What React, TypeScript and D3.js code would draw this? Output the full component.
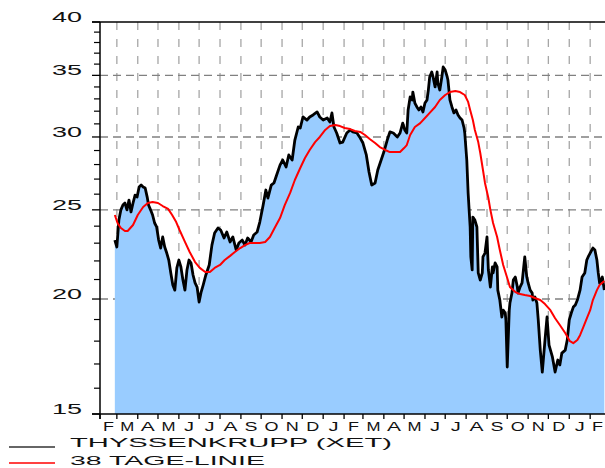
import { useMemo } from "react";
import * as d3 from "d3";

const WIDTH = 605;
const HEIGHT = 468;
const MARGIN = { top: 22, right: 0, bottom: 54, left: 100 };
const FONT = "Liberation Sans, Arial, sans-serif";

// visible time window of the chart
const X_START = "2010-02-04";
const X_END = "2012-02-23";

const Y_DOMAIN = [15, 40];
const Y_LABELS = [15, 20, 25, 30, 35, 40];
const Y_MINOR = [16, 17, 18, 19, 21, 22, 23, 24, 26, 27, 28, 29, 31, 32, 33, 34, 36, 37, 38, 39];
const Y_GRID = [20, 25, 30, 35];
const MONTH_LETTERS = ["J", "F", "M", "A", "M", "J", "J", "A", "S", "O", "N", "D"];
// gedehnte Buchstabenbreite in px
const LETTER_WIDTH: Record<string, number> = { J: 10, F: 11, M: 14, A: 14, S: 13, O: 14, N: 13, D: 13 };

const SERIES_NAMES = ["THYSSENKRUPP (XET)", "38 TAGE-LINIE"];

// Schlusskurse
const PRICE: [string, number][] = [
  ["2010-02-26", 23.18], ["2010-03-01", 22.78], ["2010-03-04", 24.37], ["2010-03-07", 25.0],
  ["2010-03-10", 25.3], ["2010-03-13", 25.43], ["2010-03-16", 25.0], ["2010-03-19", 25.62],
  ["2010-03-22", 24.87], ["2010-03-25", 25.43], ["2010-03-28", 25.94], ["2010-03-31", 25.81],
  ["2010-04-03", 26.47], ["2010-04-06", 26.6], ["2010-04-09", 26.47], ["2010-04-12", 26.4],
  ["2010-04-15", 25.81], ["2010-04-17", 25.3], ["2010-04-20", 25.0], ["2010-04-23", 24.68],
  ["2010-04-26", 24.19], ["2010-04-29", 23.95], ["2010-05-02", 23.18], ["2010-05-05", 22.72],
  ["2010-05-08", 23.36], ["2010-05-11", 22.78], ["2010-05-14", 22.44], ["2010-05-17", 22.05],
  ["2010-05-20", 21.35], ["2010-05-23", 20.71], ["2010-05-26", 20.45], ["2010-05-29", 21.62],
  ["2010-06-01", 22.05], ["2010-06-04", 21.67], ["2010-06-07", 20.97], ["2010-06-10", 20.45],
  ["2010-06-13", 21.51], ["2010-06-16", 22.05], ["2010-06-19", 21.89], ["2010-06-22", 21.24],
  ["2010-06-25", 20.82], ["2010-06-28", 20.61], ["2010-07-01", 19.85], ["2010-07-04", 20.35],
  ["2010-07-07", 20.71], ["2010-07-11", 21.24], ["2010-07-16", 21.78], ["2010-07-20", 22.89],
  ["2010-07-24", 23.59], ["2010-07-29", 23.89], ["2010-08-02", 23.77], ["2010-08-07", 23.3],
  ["2010-08-11", 23.65], ["2010-08-16", 23.07], ["2010-08-20", 23.36], ["2010-08-25", 22.61],
  ["2010-08-29", 23.01], ["2010-09-03", 23.18], ["2010-09-07", 22.89], ["2010-09-11", 23.3],
  ["2010-09-16", 23.07], ["2010-09-20", 23.47], ["2010-09-25", 23.65], ["2010-09-29", 24.25],
  ["2010-10-04", 25.3], ["2010-10-08", 26.27], ["2010-10-11", 25.75], ["2010-10-16", 26.6],
  ["2010-10-20", 26.74], ["2010-10-24", 27.28], ["2010-10-29", 27.96], ["2010-11-02", 28.32],
  ["2010-11-07", 27.83], ["2010-11-11", 28.68], ["2010-11-16", 28.32], ["2010-11-20", 29.77],
  ["2010-11-25", 30.76], ["2010-11-28", 30.68], ["2010-12-02", 31.54], ["2010-12-08", 31.3],
  ["2010-12-12", 31.54], ["2010-12-17", 31.7], ["2010-12-23", 31.94], ["2010-12-27", 31.54],
  ["2011-01-01", 31.3], ["2011-01-07", 31.46], ["2011-01-11", 31.14], ["2011-01-14", 31.86],
  ["2011-01-17", 30.76], ["2011-01-21", 30.3], ["2011-01-26", 29.55], ["2011-01-30", 29.62],
  ["2011-02-05", 30.3], ["2011-02-10", 30.53], ["2011-02-14", 30.38], ["2011-02-20", 30.3],
  ["2011-02-25", 29.92], ["2011-03-01", 29.55], ["2011-03-06", 28.68], ["2011-03-10", 27.48],
  ["2011-03-14", 26.6], ["2011-03-19", 26.74], ["2011-03-23", 27.62], ["2011-03-28", 28.32],
  ["2011-04-01", 28.89], ["2011-04-06", 29.77], ["2011-04-10", 30.38], ["2011-04-15", 30.3],
  ["2011-04-21", 30.0], ["2011-04-25", 30.3], ["2011-04-29", 31.06], ["2011-05-02", 30.53],
  ["2011-05-05", 30.3], ["2011-05-07", 32.1], ["2011-05-10", 33.16], ["2011-05-13", 32.91],
  ["2011-05-14", 33.57], ["2011-05-17", 32.66], ["2011-05-20", 32.34], ["2011-05-23", 32.1],
  ["2011-05-26", 32.34], ["2011-05-29", 31.94], ["2011-06-01", 32.66], ["2011-06-04", 32.91],
  ["2011-06-06", 33.74], ["2011-06-08", 34.86], ["2011-06-11", 35.3], ["2011-06-13", 34.86],
  ["2011-06-16", 34.0], ["2011-06-19", 35.3], ["2011-06-20", 34.34], ["2011-06-23", 33.74],
  ["2011-06-26", 34.86], ["2011-06-28", 35.74], ["2011-07-01", 35.47], ["2011-07-04", 34.86],
  ["2011-07-05", 34.6], ["2011-07-08", 32.91], ["2011-07-11", 32.34], ["2011-07-14", 31.86],
  ["2011-07-17", 32.1], ["2011-07-20", 31.7], ["2011-07-23", 31.46], ["2011-07-26", 31.3],
  ["2011-07-29", 30.68], ["2011-07-30", 30.3], ["2011-08-02", 28.32], ["2011-08-04", 26.08],
  ["2011-08-07", 23.95], ["2011-08-08", 22.22], ["2011-08-10", 21.51], ["2011-08-11", 24.55],
  ["2011-08-14", 24.37], ["2011-08-17", 23.95], ["2011-08-19", 21.35], ["2011-08-22", 20.97],
  ["2011-08-25", 21.35], ["2011-08-26", 22.22], ["2011-08-29", 22.44], ["2011-09-01", 23.36],
  ["2011-09-03", 21.51], ["2011-09-06", 20.61], ["2011-09-09", 21.67], ["2011-09-10", 21.35],
  ["2011-09-13", 21.89], ["2011-09-16", 21.67], ["2011-09-17", 20.45], ["2011-09-20", 19.95],
  ["2011-09-23", 19.12], ["2011-09-25", 19.45], ["2011-09-28", 19.31], ["2011-09-29", 18.98],
  ["2011-10-01", 16.87], ["2011-10-04", 19.45], ["2011-10-05", 19.8], ["2011-10-08", 20.3],
  ["2011-10-10", 20.97], ["2011-10-13", 21.13], ["2011-10-16", 20.61], ["2011-10-17", 20.3],
  ["2011-10-20", 20.61], ["2011-10-23", 20.82], ["2011-10-25", 21.51], ["2011-10-27", 22.22],
  ["2011-10-30", 21.13], ["2011-11-01", 20.82], ["2011-11-04", 20.45], ["2011-11-07", 20.3],
  ["2011-11-08", 19.95], ["2011-11-11", 20.1], ["2011-11-14", 19.8], ["2011-11-16", 18.98],
  ["2011-11-19", 17.6], ["2011-11-22", 16.66], ["2011-11-26", 18.05], ["2011-11-29", 19.12],
  ["2011-12-02", 17.82], ["2011-12-07", 17.3], ["2011-12-11", 16.66], ["2011-12-15", 17.17],
  ["2011-12-18", 16.96], ["2011-12-21", 17.47], ["2011-12-26", 17.6], ["2011-12-29", 18.05],
  ["2012-01-01", 18.98], ["2012-01-04", 19.31], ["2012-01-07", 19.6], ["2012-01-10", 19.7],
  ["2012-01-13", 19.95], ["2012-01-17", 20.45], ["2012-01-20", 21.13], ["2012-01-24", 21.35],
  ["2012-01-27", 22.05], ["2012-01-29", 22.22], ["2012-02-01", 22.44], ["2012-02-05", 22.72],
  ["2012-02-08", 22.61], ["2012-02-11", 22.05], ["2012-02-13", 21.35], ["2012-02-15", 20.82],
  ["2012-02-19", 21.13], ["2012-02-22", 20.45],
];

// 38-Tage-Linie
const MA38: [string, number][] = [
  ["2010-02-26", 24.68], ["2010-03-02", 24.19], ["2010-03-07", 23.89], ["2010-03-13", 23.71],
  ["2010-03-17", 23.71], ["2010-03-25", 24.07], ["2010-04-01", 24.68], ["2010-04-09", 25.18],
  ["2010-04-16", 25.43], ["2010-04-23", 25.49], ["2010-05-01", 25.43], ["2010-05-08", 25.24],
  ["2010-05-16", 25.06], ["2010-05-22", 24.68], ["2010-05-28", 24.25], ["2010-06-02", 23.77],
  ["2010-06-10", 23.07], ["2010-06-17", 22.5], ["2010-06-25", 21.94], ["2010-07-02", 21.62],
  ["2010-07-10", 21.4], ["2010-07-17", 21.4], ["2010-07-24", 21.62], ["2010-08-01", 21.78],
  ["2010-08-08", 22.05], ["2010-08-16", 22.28], ["2010-08-23", 22.5], ["2010-08-31", 22.72],
  ["2010-09-07", 22.89], ["2010-09-14", 23.01], ["2010-09-22", 23.01], ["2010-09-29", 23.01],
  ["2010-10-07", 23.07], ["2010-10-14", 23.36], ["2010-10-21", 23.89], ["2010-10-29", 24.49],
  ["2010-11-05", 25.3], ["2010-11-13", 26.08], ["2010-11-20", 26.94], ["2010-11-28", 27.76],
  ["2010-12-05", 28.46], ["2010-12-12", 29.04], ["2010-12-20", 29.62], ["2010-12-27", 30.0],
  ["2011-01-04", 30.53], ["2011-01-11", 30.83], ["2011-01-19", 30.91], ["2011-01-26", 30.83],
  ["2011-02-02", 30.68], ["2011-02-10", 30.6], ["2011-02-17", 30.45], ["2011-02-25", 30.38],
  ["2011-03-04", 30.15], ["2011-03-11", 29.85], ["2011-03-19", 29.55], ["2011-03-26", 29.25],
  ["2011-04-03", 29.04], ["2011-04-10", 28.89], ["2011-04-18", 28.89], ["2011-04-25", 28.89],
  ["2011-05-01", 29.18], ["2011-05-05", 29.4], ["2011-05-10", 30.15], ["2011-05-17", 30.76],
  ["2011-05-25", 31.06], ["2011-06-01", 31.46], ["2011-06-08", 31.86], ["2011-06-16", 32.34],
  ["2011-06-23", 32.91], ["2011-07-01", 33.32], ["2011-07-08", 33.57], ["2011-07-16", 33.65],
  ["2011-07-23", 33.57], ["2011-07-30", 33.32], ["2011-08-04", 32.75], ["2011-08-07", 32.1],
  ["2011-08-11", 31.3], ["2011-08-14", 30.53], ["2011-08-19", 29.62], ["2011-08-22", 28.82],
  ["2011-08-26", 27.62], ["2011-08-29", 26.74], ["2011-09-03", 25.75], ["2011-09-06", 25.0],
  ["2011-09-10", 24.19], ["2011-09-16", 23.36], ["2011-09-20", 22.61], ["2011-09-25", 21.78],
  ["2011-10-01", 21.08], ["2011-10-05", 20.61], ["2011-10-13", 20.35], ["2011-10-20", 20.25],
  ["2011-10-27", 20.2], ["2011-11-04", 20.15], ["2011-11-11", 20.05], ["2011-11-19", 19.95],
  ["2011-11-26", 19.75], ["2011-12-04", 19.45], ["2011-12-11", 19.06], ["2011-12-18", 18.74],
  ["2011-12-26", 18.37], ["2012-01-02", 18.0], ["2012-01-07", 17.91], ["2012-01-13", 18.05],
  ["2012-01-17", 18.27], ["2012-01-22", 18.65], ["2012-01-27", 19.06], ["2012-02-01", 19.45],
  ["2012-02-05", 19.95], ["2012-02-11", 20.45], ["2012-02-15", 20.71], ["2012-02-22", 20.92],
];

const parseDate = d3.timeParse("%Y-%m-%d");

export default function App() {
  const boundsWidth = WIDTH - MARGIN.left - MARGIN.right;
  const boundsHeight = HEIGHT - MARGIN.top - MARGIN.bottom;
  const start = parseDate(X_START) as Date;
  const end = parseDate(X_END) as Date;

  const xScale = useMemo(
    () => d3.scaleTime().domain([start, end]).range([0, boundsWidth]),
    []
  );
  const yScale = useMemo(
    () => d3.scaleLog().domain(Y_DOMAIN).range([boundsHeight, 0]),
    []
  );

  const price = PRICE.map(([d, v]) => ({ date: parseDate(d) as Date, value: v }));
  const ma = MA38.map(([d, v]) => ({ date: parseDate(d) as Date, value: v }));

  const line = d3
    .line<{ date: Date; value: number }>()
    .x((d) => xScale(d.date))
    .y((d) => yScale(d.value));
  const area = d3
    .area<{ date: Date; value: number }>()
    .x((d) => xScale(d.date))
    .y0(boundsHeight)
    .y1((d) => yScale(d.value));

  // Monatsgrenzen
  const monthStarts = d3.timeMonth.range(d3.timeMonth.ceil(start), end);
  const labelMonths = d3.timeMonth.range(d3.timeMonth.floor(start), end);

  const vGrid = monthStarts.map((m, i) => (
    <line key={i} x1={xScale(m)} x2={xScale(m)} y1={0} y2={boundsHeight}
      stroke="#a6a6a6" strokeWidth={1.3} strokeDasharray="8,9" />
  ));

  const hGrid = Y_GRID.map((v) => (
    <line key={v} x1={0} x2={boundsWidth} y1={yScale(v)} y2={yScale(v)}
      stroke="#808080" strokeWidth={1.3} strokeDasharray="8,5" />
  ));

  const xTicks = [start, ...monthStarts].map((m, i) => (
    <line key={i} x1={xScale(m)} x2={xScale(m)} y1={boundsHeight} y2={boundsHeight + 5}
      stroke="black" strokeWidth={1.3} />
  ));

  const xLabels = labelMonths.map((m, i) => {
    const a = Math.max(xScale(m), 0);
    const b = Math.min(xScale(d3.timeMonth.offset(m, 1)), boundsWidth);
    const letter = MONTH_LETTERS[m.getMonth()];
    const w = LETTER_WIDTH[letter];
    return (
      <text key={i} x={(a + b) / 2 - w / 2} y={boundsHeight + 17}
        textLength={w} lengthAdjust="spacingAndGlyphs"
        fontSize={13.5} fontFamily={FONT} fill="#111">
        {letter}
      </text>
    );
  });

  const yMajor = Y_LABELS.map((v) => (
    <g key={v}>
      <line x1={-8} x2={0} y1={yScale(v)} y2={yScale(v)} stroke="black" strokeWidth={1.3} />
      <text x={-48} y={yScale(v)} textLength={30} lengthAdjust="spacingAndGlyphs"
        fontSize={14} fontFamily={FONT} fill="#111">
        {v}
      </text>
    </g>
  ));

  const yMinor = Y_MINOR.map((v) => (
    <line key={v} x1={-6} x2={0} y1={yScale(v)} y2={yScale(v)} stroke="black" strokeWidth={1.2} />
  ));

  return (
    <svg width={WIDTH} height={HEIGHT} style={{ position: "absolute", left: 0, top: 0 }}>
      <rect width={WIDTH} height={HEIGHT} fill="white" />
      <g transform={`translate(${MARGIN.left},${MARGIN.top})`}>
        {vGrid}
        {hGrid}
        <path d={area(price) ?? ""} fill="#99ccff" />
        <path d={line(price) ?? ""} fill="none" stroke="black" strokeWidth={2.8}
          strokeLinejoin="round" />
        <path d={line(ma) ?? ""} fill="none" stroke="#ff0000" strokeWidth={2}
          strokeLinejoin="round" />
        {/* Achsen */}
        <line x1={-8} x2={boundsWidth} y1={0} y2={0} stroke="black" strokeWidth={1.5} />
        <line x1={-8} x2={boundsWidth} y1={boundsHeight} y2={boundsHeight} stroke="black" strokeWidth={1.5} />
        <line x1={0} x2={0} y1={0} y2={boundsHeight + 5} stroke="black" strokeWidth={1.5} />
        {yMinor}
        {yMajor}
        {xTicks}
        {xLabels}
      </g>
      {/* Legende */}
      <line x1={9} x2={55} y1={447} y2={447} stroke="#333" strokeWidth={1.5} />
      <text x={70} y={447} textLength={322} lengthAdjust="spacingAndGlyphs"
        fontSize={13} fontFamily={FONT} fill="#111">
        {SERIES_NAMES[0]}
      </text>
      <line x1={9} x2={55} y1={463} y2={463} stroke="#ff0000" strokeWidth={1.5} />
      <text x={70} y={465} textLength={195} lengthAdjust="spacingAndGlyphs"
        fontSize={13} fontFamily={FONT} fill="#111">
        {SERIES_NAMES[1]}
      </text>
    </svg>
  );
}
